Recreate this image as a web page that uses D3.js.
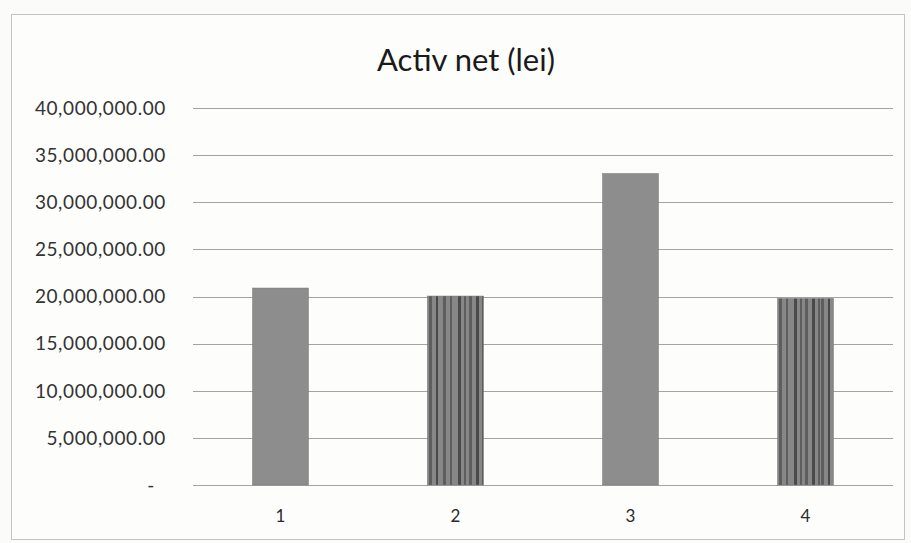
<!DOCTYPE html>
<html>
<head>
<meta charset="utf-8">
<script src="https://cdn.jsdelivr.net/npm/d3@7"></script>
<style>
  body { margin: 0; background: #fbfbfa; }
  svg { display: block; font-family: Lato, "Open Sans", sans-serif; }
</style>
</head>
<body>
<svg width="911" height="543"></svg>
<script>
// data
var categories = ["1", "2", "3", "4"];
var values = [20900000, 20050000, 33050000, 19800000];
var yTicks = [0, 5000000, 10000000, 15000000, 20000000, 25000000, 30000000, 35000000, 40000000];
var chartTitle = "Activ net (lei)";

var svg = d3.select("svg"),
  width = +svg.attr("width"),
  height = +svg.attr("height"),
  margin = {top: 108, right: 18, bottom: 58, left: 193};

// outer chart border
svg.append("rect")
  .attr("x", 11.5).attr("y", 14.5)
  .attr("width", 893).attr("height", 525)
  .attr("fill", "#fdfdfc")
  .attr("stroke", "#c4c4c4");

// stripes for the scanned look of bars 2 and 4
var defs = svg.append("defs");
var pat = defs.append("pattern")
  .attr("id", "stripes")
  .attr("patternUnits", "userSpaceOnUse")
  .attr("width", 56).attr("height", 10);
pat.append("rect").attr("width", 56).attr("height", 10).attr("fill", "#878787");
[3, 9, 12, 19, 26, 33, 41, 47, 52].forEach(function(x, i) {
  pat.append("rect")
    .attr("x", x).attr("width", i % 2 ? 2 : 3).attr("height", 10)
    .attr("fill", i % 3 == 0 ? "#4a4a4a" : "#5e5e5e");
});

var g = svg.append("g").attr("transform", "translate(" + margin.left + "," + margin.top + ")");
var w = width - margin.left - margin.right,
  h = height - margin.top - margin.bottom;

var x = d3.scaleBand()
  .domain(categories)
  .range([0, w])
  .paddingInner(0.68)
  .paddingOuter(0.34);

var y = d3.scaleLinear()
  .domain([0, 40000000])
  .range([h, 0]);

// gridlines
g.append("g")
  .selectAll("line")
  .data(yTicks)
  .enter().append("line")
  .attr("x1", 0).attr("x2", w)
  .attr("y1", function(d) { return Math.round(y(d)) + 0.5; })
  .attr("y2", function(d) { return Math.round(y(d)) + 0.5; })
  .attr("stroke", "#a3a3a3")
  .attr("stroke-width", 1);

// y labels
var fmt = d3.format(",.2f");
g.append("g")
  .attr("text-anchor", "end")
  .selectAll("text")
  .data(yTicks)
  .enter().append("text")
  .attr("x", function(d) { return d === 0 ? -38 : -27; })
  .attr("y", function(d) { return y(d); })
  .attr("dy", "0.36em")
  .attr("font-size", 19)
  .attr("letter-spacing", 0.6)
  .attr("fill", "#333")
  .text(function(d) { return d === 0 ? "-" : fmt(d); });

// bars
g.append("g")
  .selectAll("rect")
  .data(values)
  .enter().append("rect")
  .attr("x", function(d, i) { return x(categories[i]); })
  .attr("y", function(d) { return y(d); })
  .attr("width", x.bandwidth())
  .attr("height", function(d) { return h - y(d); })
  .attr("fill", function(d, i) { return i % 2 ? "url(#stripes)" : "#8d8d8d"; })
  .attr("stroke", "#7a7a7a")
  .attr("stroke-width", 0.5);

// x labels
g.append("g")
  .attr("text-anchor", "middle")
  .selectAll("text")
  .data(categories)
  .enter().append("text")
  .attr("x", function(d) { return x(d) + x.bandwidth() / 2; })
  .attr("y", h + 37)
  .attr("font-size", 17)
  .attr("fill", "#2a2a2a")
  .text(function(d) { return d; });

// title
svg.append("text")
  .attr("x", 466)
  .attr("y", 71)
  .attr("text-anchor", "middle")
  .attr("font-size", 31)
  .attr("fill", "#1a1a1a")
  .text(chartTitle);
</script>
</body>
</html>
